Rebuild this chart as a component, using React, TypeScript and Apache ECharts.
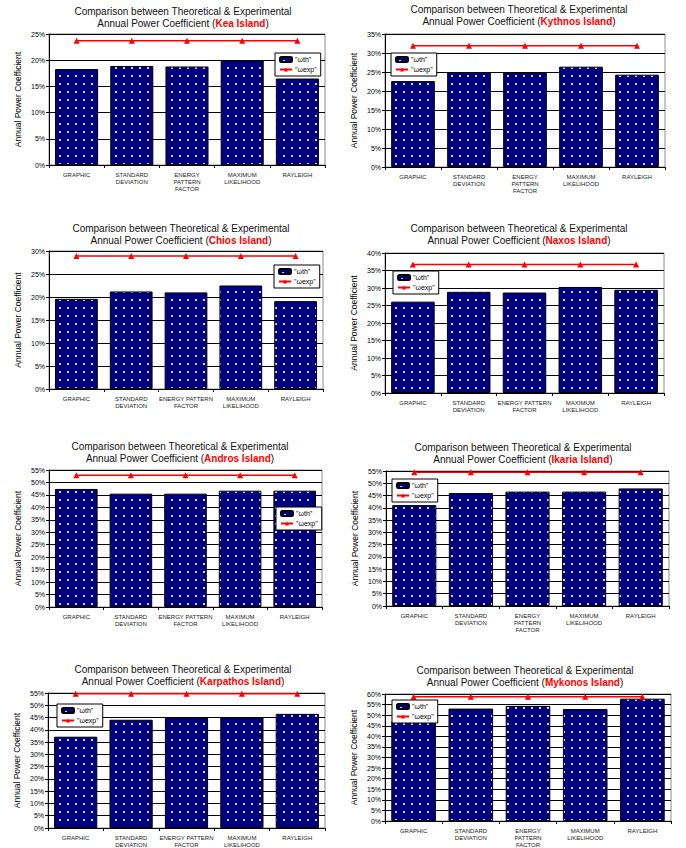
import React, { useEffect, useRef } from 'react';
import * as echarts from 'echarts';

// Category labels (two wrapping variants used by the panels)
const categoriesStacked = ['GRAPHIC', 'STANDARD\nDEVIATION', 'ENERGY\nPATTERN\nFACTOR', 'MAXIMUM\nLIKELIHOOD', 'RAYLEIGH'];
const categoriesWide = ['GRAPHIC', 'STANDARD\nDEVIATION', 'ENERGY PATTERN\nFACTOR', 'MAXIMUM\nLIKELIHOOD', 'RAYLEIGH'];

const islands = ['Kea Island', 'Kythnos Island', 'Chios Island', 'Naxos Island', 'Andros Island', 'Ikaria Island', 'Karpathos Island', 'Mykonos Island'];

// Theoretical annual power coefficient ωth (%) per estimation method
const wthKea = [18.3, 18.9, 18.8, 20.0, 16.5];
const wthKythnos = [22.6, 25.0, 24.9, 26.4, 24.3];
const wthChios = [19.6, 21.2, 21.0, 22.5, 19.1];
const wthNaxos = [26.1, 28.9, 28.7, 30.3, 29.5];
const wthAndros = [47.4, 45.5, 45.5, 46.7, 46.7];
const wthIkaria = [41.1, 46.0, 46.6, 46.6, 47.9];
const wthKarpathos = [37.2, 44.1, 45.0, 45.0, 46.5];
const wthMykonos = [47.2, 53.1, 54.4, 52.9, 57.8];

// Experimental annual power coefficient ωexp (%)
const wexpKea = [23.7, 23.7, 23.7, 23.7, 23.7];
const wexpKythnos = [31.9, 31.9, 31.9, 31.9, 31.9];
const wexpChios = [28.9, 28.9, 28.9, 28.9, 28.9];
const wexpNaxos = [36.7, 36.7, 36.7, 36.7, 36.7];
const wexpAndros = [52.9, 52.9, 52.9, 52.9, 52.9];
const wexpIkaria = [54.5, 54.5, 54.5, 54.5, 54.5];
const wexpKarpathos = [54.7, 54.7, 54.7, 54.7, 54.7];
const wexpMykonos = [58.7, 58.7, 58.7, 58.7, 58.7];

// Upper limit of each percentage axis
const yMaxes = [25, 35, 30, 40, 55, 55, 55, 60];

const wthAll = [wthKea, wthKythnos, wthChios, wthNaxos, wthAndros, wthIkaria, wthKarpathos, wthMykonos];
const wexpAll = [wexpKea, wexpKythnos, wexpChios, wexpNaxos, wexpAndros, wexpIkaria, wexpKarpathos, wexpMykonos];
const labelSets = [categoriesStacked, categoriesStacked, categoriesWide, categoriesWide, categoriesWide, categoriesStacked, categoriesWide, categoriesStacked];

// Panel placement: plot rectangle [left, top, width, height], title centre/top, legend top-left
const panels = [
  { grid: [49, 34, 276, 131], title: [183, 5], legend: [275, 53] },
  { grid: [385, 34, 280, 133], title: [519, 3], legend: [391, 53] },
  { grid: [49, 251, 274, 138], title: [181, 222], legend: [274, 265] },
  { grid: [385, 253, 279, 140], title: [519, 222], legend: [393, 271] },
  { grid: [49, 470, 273, 137], title: [180, 440], legend: [276, 507] },
  { grid: [386, 471, 283, 135], title: [523, 441], legend: [392, 479] },
  { grid: [48, 693, 277, 140], title: [183, 663], legend: [57, 704] },
  { grid: [385, 694, 286, 136], title: [525, 664], legend: [392, 700] },
];

const FONT = '"Liberation Sans", Arial, sans-serif';
const TH = '"ωth"';
const EXP = '"ωexp"';

function makeDotPattern() {
  const c = document.createElement('canvas');
  c.width = 8;
  c.height = 8;
  const ctx = c.getContext('2d')!;
  ctx.fillStyle = '#000080';
  ctx.fillRect(0, 0, 8, 8);
  ctx.fillStyle = '#c8c8e8';
  ctx.fillRect(3, 3, 2, 2);
  ctx.fillStyle = '#f4f4ff';
  ctx.fillRect(3.5, 3.5, 1, 1);
  return c;
}

export default function App() {
  const ref = useRef<HTMLDivElement>(null);

  useEffect(() => {
    if (!ref.current) return;
    const chart = echarts.init(ref.current, undefined, { renderer: 'svg' });
    const pattern = { image: makeDotPattern(), repeat: 'repeat' } as any;

    const option: any = {
      animation: false,
      backgroundColor: '#ffffff',
      textStyle: { fontFamily: FONT },
      title: panels.map((p, i) => ({
        left: p.title[0],
        top: p.title[1],
        textAlign: 'center',
        text: `{a|Comparison between Theoretical & Experimental}\n{a|Annual Power Coefficient (}{r|${islands[i]}}{a|)}`,
        padding: 0,
        textStyle: {
          fontFamily: FONT,
          fontSize: 10,
          fontWeight: 'normal',
          color: '#000',
          lineHeight: 12,
          rich: {
            a: { fontFamily: FONT, fontSize: 10, fontWeight: 'normal', color: '#111', lineHeight: 12 },
            r: { fontFamily: FONT, fontSize: 10, fontWeight: 'bold', color: '#ff0000', lineHeight: 12 },
          },
        },
      })),
      legend: panels.map((p) => ({
        left: p.legend[0],
        top: p.legend[1],
        orient: 'vertical',
        data: [TH, EXP],
        backgroundColor: '#fff',
        borderColor: '#000',
        borderWidth: 1,
        padding: [3, 4, 3, 4],
        itemGap: 3,
        itemWidth: 12,
        itemHeight: 5,
        selectedMode: false,
        textStyle: { fontFamily: FONT, fontSize: 7, color: '#000', padding: [0, 0, 0, -2] },
      })),
      grid: panels.map((p) => ({
        left: p.grid[0],
        top: p.grid[1],
        width: p.grid[2],
        height: p.grid[3],
        show: true,
        borderColor: '#8c8c8c',
        borderWidth: 1,
        backgroundColor: 'transparent',
      })),
      xAxis: panels.map((p, i) => ({
        type: 'category',
        gridIndex: i,
        data: labelSets[i],
        axisLine: { show: true, lineStyle: { color: '#000', width: 1 } },
        axisTick: { show: true, alignWithLabel: false, length: 3, lineStyle: { color: '#000' } },
        axisLabel: { interval: 0, fontFamily: FONT, fontSize: 6, lineHeight: 7, color: '#222', margin: 6 },
        splitLine: { show: false },
      })),
      yAxis: panels.map((p, i) => ({
        type: 'value',
        gridIndex: i,
        min: 0,
        max: yMaxes[i],
        interval: 5,
        name: 'Annual Power Coefficient',
        nameLocation: 'middle',
        nameRotate: 90,
        nameGap: 27,
        nameTextStyle: { fontFamily: FONT, fontSize: 8.5, color: '#000' },
        axisLine: { show: true, lineStyle: { color: '#000', width: 1 } },
        axisTick: { show: true, length: 3, lineStyle: { color: '#000' } },
        axisLabel: { formatter: '{value}%', fontFamily: FONT, fontSize: 7, color: '#000', margin: 4 },
        splitLine: { show: true, lineStyle: { color: '#000', width: 1 } },
      })),
      series: panels.flatMap((p, i) => [
        {
          type: 'bar',
          name: TH,
          xAxisIndex: i,
          yAxisIndex: i,
          data: wthAll[i],
          barCategoryGap: '22%',
          itemStyle: { color: pattern, borderColor: '#000', borderWidth: 1 },
          z: 2,
        },
        {
          type: 'line',
          name: EXP,
          xAxisIndex: i,
          yAxisIndex: i,
          data: wexpAll[i],
          symbol: 'triangle',
          symbolSize: 6,
          lineStyle: { color: '#ff0000', width: 1.5 },
          itemStyle: { color: '#ff0000' },
          z: 3,
        },
      ]),
    };

    chart.setOption(option);
    return () => chart.dispose();
  }, []);

  return (
    <div
      ref={ref}
      style={{ position: 'absolute', left: 0, top: 0, width: 686, height: 848 }}
    />
  );
}
